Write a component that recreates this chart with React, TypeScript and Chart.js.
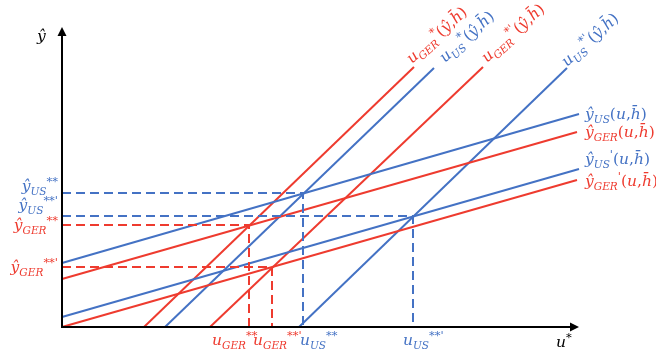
import React, { useEffect, useRef } from "react";
import { Chart, registerables } from "chart.js";
Chart.register(...registerables);

const BLUE = "#4472C4";
const RED = "#EE3B2F";

// Output curves ŷ(u, h̄): x and y values at the two ends
const outputX = [0, 517];
const outputUS = [64, 213];
const outputGER = [48, 195];
const outputUSp = [10, 158];
const outputGERp = [0, 147];

// Unemployment curves u*(ŷ, h̄): y range and x values at the two ends
const unempY = [0, 260];
const unempGER = [82, 352];
const unempUS = [103, 372];
const unempGERp = [148, 421];
const unempUSp = [237, 505];

// Equilibria (dashed guides)
const eqX = [241, 351, 187, 210];
const eqY = [134, 111, 102, 60];
const eqColor = [BLUE, BLUE, RED, RED];

type Part = [string, string];

const FONT = '"DejaVu Serif"';
const S = 15.5;

function fontFor(kind: string) {
  if (kind === "i") return `italic ${S}px ${FONT}`;
  if (kind === "r") return `${S}px ${FONT}`;
  if (kind === "b") return `italic ${S * 0.68}px ${FONT}`;
  return `${S * 0.74}px ${FONT}`;
}
function dyFor(kind: string) {
  if (kind === "b") return S * 0.28;
  if (kind === "p") return -S * 0.4;
  return 0;
}

function drawRich(ctx: CanvasRenderingContext2D, parts: Part[], x: number, y: number, color: string, align: string) {
  let w = 0;
  for (const [t, k] of parts) {
    ctx.font = fontFor(k);
    w += ctx.measureText(t).width;
  }
  let cx = align === "right" ? x - w : x;
  ctx.fillStyle = color;
  ctx.textBaseline = "alphabetic";
  ctx.textAlign = "left";
  for (const [t, k] of parts) {
    ctx.font = fontFor(k);
    ctx.fillText(t, cx, y + dyFor(k));
    cx += ctx.measureText(t).width;
  }
}

const tail: Part[] = [["(", "r"], ["u", "i"], [",", "r"], ["h\u0304", "i"], [")", "r"]];
const tailY: Part[] = [["(", "r"], ["ŷ", "i"], [",", "r"], ["h\u0304", "i"], [")", "r"]];

const labels: { parts: Part[]; x: number; y: number; color: string; align: string; rot?: number }[] = [
  { parts: [["ŷ", "i"], ["US", "b"], ["**", "p"]], x: -4, y: 136, color: BLUE, align: "right" },
  { parts: [["ŷ", "i"], ["US", "b"], ["**'", "p"]], x: -4, y: 117, color: BLUE, align: "right" },
  { parts: [["ŷ", "i"], ["GER", "b"], ["**", "p"]], x: -4, y: 97, color: RED, align: "right" },
  { parts: [["ŷ", "i"], ["GER", "b"], ["**'", "p"]], x: -4, y: 55, color: RED, align: "right" },
  { parts: [["u", "i"], ["GER", "b"], ["**", "p"]], x: 150, y: -18, color: RED, align: "left" },
  { parts: [["u", "i"], ["GER", "b"], ["**'", "p"]], x: 191, y: -18, color: RED, align: "left" },
  { parts: [["u", "i"], ["US", "b"], ["**", "p"]], x: 238, y: -18, color: BLUE, align: "left" },
  { parts: [["u", "i"], ["US", "b"], ["**'", "p"]], x: 341, y: -18, color: BLUE, align: "left" },
  { parts: [["ŷ", "i"], ["US", "b"], ...tail], x: 523, y: 208, color: BLUE, align: "left" },
  { parts: [["ŷ", "i"], ["GER", "b"], ...tail], x: 523, y: 190, color: RED, align: "left" },
  { parts: [["ŷ", "i"], ["US", "b"], ["'", "p"], ...tail], x: 523, y: 163, color: BLUE, align: "left" },
  { parts: [["ŷ", "i"], ["GER", "b"], ["'", "p"], ...tail], x: 523, y: 141, color: RED, align: "left" },
  { parts: [["u", "i"], ["GER", "b"], ["*", "p"], ...tailY], x: 350, y: 263, color: RED, align: "left", rot: 42 },
  { parts: [["u", "i"], ["US", "b"], ["*", "p"], ...tailY], x: 383, y: 264, color: BLUE, align: "left", rot: 42 },
  { parts: [["u", "i"], ["GER", "b"], ["*'", "p"], ...tailY], x: 425, y: 264, color: RED, align: "left", rot: 42 },
  { parts: [["u", "i"], ["US", "b"], ["*'", "p"], ...tailY], x: 505, y: 260, color: BLUE, align: "left", rot: 42 },
  { parts: [["ŷ", "i"]], x: -25, y: 286, color: "#000", align: "left" },
  { parts: [["u", "i"], ["*", "p"]], x: 494, y: -20, color: "#000", align: "left" },
];

const decor = {
  id: "decor",
  afterDatasetsDraw(chart: any) {
    const ctx: CanvasRenderingContext2D = chart.ctx;
    const xs = chart.scales.x;
    const ys = chart.scales.y;
    const ox = xs.getPixelForValue(0);
    const oy = ys.getPixelForValue(0);
    const tipY = ys.getPixelForValue(300);
    const tipX = xs.getPixelForValue(517);
    ctx.save();
    ctx.strokeStyle = "#000";
    ctx.fillStyle = "#000";
    ctx.lineWidth = 2;
    ctx.beginPath();
    ctx.moveTo(ox, oy);
    ctx.lineTo(ox, tipY + 6);
    ctx.moveTo(ox - 1, oy);
    ctx.lineTo(tipX - 6, oy);
    ctx.stroke();
    ctx.beginPath();
    ctx.moveTo(ox, tipY);
    ctx.lineTo(ox - 4.5, tipY + 9);
    ctx.lineTo(ox + 4.5, tipY + 9);
    ctx.closePath();
    ctx.fill();
    ctx.beginPath();
    ctx.moveTo(tipX, oy);
    ctx.lineTo(tipX - 9, oy - 4.5);
    ctx.lineTo(tipX - 9, oy + 4.5);
    ctx.closePath();
    ctx.fill();
    for (const l of labels) {
      const px = xs.getPixelForValue(l.x);
      const py = ys.getPixelForValue(l.y);
      ctx.save();
      ctx.translate(px, py);
      if (l.rot) ctx.rotate((-l.rot * Math.PI) / 180);
      drawRich(ctx, l.parts, 0, 0, l.color, l.align);
      ctx.restore();
    }
    ctx.restore();
  },
};

function seg(xv: number[], yv: number[], color: string) {
  return {
    data: [
      { x: xv[0], y: yv[0] },
      { x: xv[1], y: yv[1] },
    ],
    borderColor: color,
    borderWidth: 2,
    showLine: true,
    pointRadius: 0,
    clip: false as any,
  };
}

export default function App() {
  const ref = useRef<HTMLCanvasElement>(null);
  useEffect(() => {
    document.body.style.margin = "0";
    const dashed = eqX.map((x, i) => ({
      data: [
        { x: 0, y: eqY[i] },
        { x, y: eqY[i] },
        { x, y: 0 },
      ],
      borderColor: eqColor[i],
      borderWidth: 2,
      borderDash: [9, 5],
      showLine: true,
      pointRadius: 0,
      clip: false as any,
    }));
    const chart = new Chart(ref.current!, {
      type: "scatter",
      data: {
        datasets: [
          ...dashed,
          seg(outputX, outputUS, BLUE),
          seg(outputX.map((v) => (v ? 515 : v)), outputGER, RED),
          seg(outputX, outputUSp, BLUE),
          seg(outputX.map((v) => (v ? 515 : v)), outputGERp, RED),
          seg(unempGER, unempY, RED),
          seg(unempUS, [unempY[0], 259], BLUE),
          seg(unempGERp, unempY, RED),
          seg(unempUSp, [unempY[0], 259], BLUE),
        ] as any,
      },
      options: {
        animation: false,
        responsive: false,
        layout: { padding: { left: 62, right: 76, top: 25, bottom: 23 } },
        scales: {
          x: { type: "linear", min: 0, max: 518, display: false },
          y: { type: "linear", min: 0, max: 302, display: false },
        },
        plugins: { legend: { display: false }, tooltip: { enabled: false } },
        events: [],
      },
      plugins: [decor],
    });
    return () => chart.destroy();
  }, []);
  return (
    <div style={{ width: 656, height: 350 }}>
      <canvas ref={ref} width={656} height={350} />
    </div>
  );
}
